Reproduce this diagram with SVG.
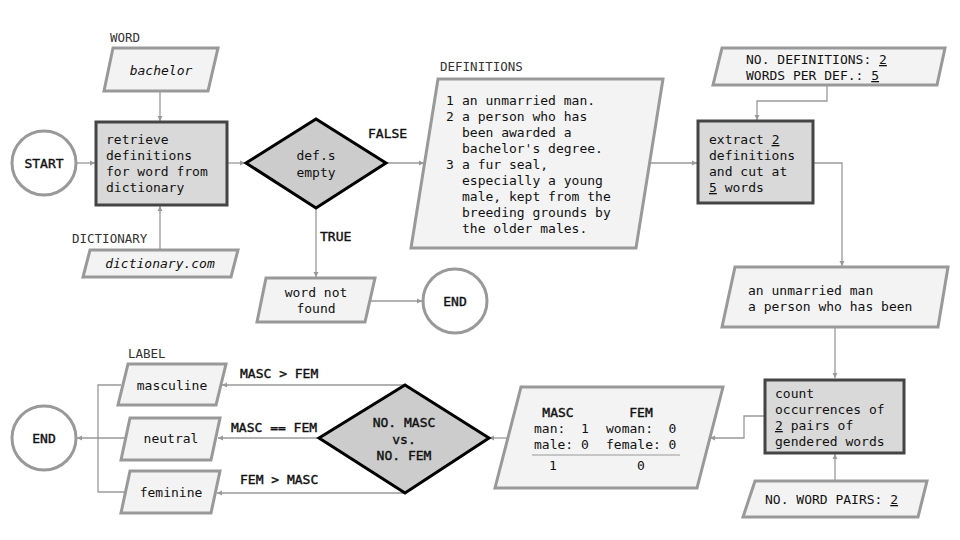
<svg xmlns="http://www.w3.org/2000/svg" width="960" height="540" viewBox="0 0 960 540">
<defs>
<marker id="ah" markerWidth="6" markerHeight="6" refX="5" refY="3" orient="auto" markerUnits="userSpaceOnUse">
<path d="M0,0.5 L5,3 L0,5.5 z" fill="#999"/>
</marker>
<style>
text{font-family:"DejaVu Sans Mono","Liberation Mono",monospace;font-size:13px;fill:#111}
.lbl{fill:#333;font-size:12.5px}
.em{stroke:#111;stroke-width:0.4}
.it{font-style:italic}
.mid{text-anchor:middle}
.io{fill:#f3f3f3;stroke:#999;stroke-width:3;stroke-linejoin:miter}
.proc{fill:#d9d9d9;stroke:#444;stroke-width:3}
.dec{fill:#cccccc;stroke:#000;stroke-width:3;stroke-linejoin:miter}
.term{fill:#fff;stroke:#999;stroke-width:3}
.c{fill:none;stroke:#999;stroke-width:1.3}
.ca{fill:none;stroke:#999;stroke-width:1.3;marker-end:url(#ah)}
.u{text-decoration:underline}
</style>
</defs>
<rect width="960" height="540" fill="#fff"/>

<g id="connectors">
<path class="ca" d="M76,163 H95"/>
<path class="ca" d="M160,91 V121"/>
<path class="ca" d="M160,249 V206"/>
<path class="ca" d="M227,163 H245"/>
<path class="ca" d="M386,163 H424"/>
<path class="ca" d="M316,208 V277"/>
<path class="ca" d="M371,301 H422"/>
<path class="ca" d="M650,163 H697"/>
<path class="ca" d="M827,85 V101 H757 V120"/>
<path class="ca" d="M813,163 H842 V266"/>
<path class="ca" d="M835,327 V378"/>
<path class="ca" d="M835,480 V454"/>
<path class="ca" d="M764,416 H744 V438 H710"/>
<path class="ca" d="M507,438 H489"/>
<path class="ca" d="M405,385 H222"/>
<path class="ca" d="M319,438 H218"/>
<path class="ca" d="M405,493 H217"/>
<path class="c" d="M121,385 H98 V492 H125"/>
<path class="ca" d="M125,438 H77"/>
<text class="em" x="368" y="138">FALSE</text>
<text class="em" x="320" y="241">TRUE</text>
<text class="em" x="240" y="378">MASC &gt; FEM</text>
<text class="em" x="231" y="432">MASC == FEM</text>
<text class="em" x="240" y="484">FEM &gt; MASC</text>
</g>

<g id="start">
<circle class="term" cx="44" cy="163" r="32"/>
<text class="em mid" x="44" y="168">START</text>
</g>

<g id="word">
<text class="lbl" x="110" y="42">WORD</text>
<polygon class="io" points="113,48 218,48 208,91 104,91"/>
<text class="it mid" x="161" y="75">bachelor</text>
</g>

<g id="dictionary">
<text class="lbl" x="72" y="243">DICTIONARY</text>
<polygon class="io" points="90,250 238,250 231,277 83,277"/>
<text class="it mid" x="160" y="268">dictionary.com</text>
</g>

<g id="retrieve">
<rect class="proc" x="96" y="122" width="131" height="83"/>
<text x="106" y="144">retrieve</text>
<text x="106" y="160">definitions</text>
<text x="106" y="176">for word from</text>
<text x="106" y="192">dictionary</text>
</g>

<g id="defs-empty">
<polygon class="dec" points="246,163 316,119 386,163 316,208"/>
<text class="mid" x="316" y="160">def.s</text>
<text class="mid" x="316" y="177">empty</text>
</g>

<g id="not-found">
<polygon class="io" points="266,278 375,278 365,322 257,322"/>
<text class="mid" x="316" y="297">word not</text>
<text class="mid" x="316" y="313">found</text>
</g>

<g id="end1">
<circle class="term" cx="455" cy="301" r="32"/>
<text class="em mid" x="455" y="306">END</text>
</g>

<g id="definitions">
<text class="lbl" x="440" y="71">DEFINITIONS</text>
<polygon class="io" points="438,79 663,79 636,248 411,248"/>
<text x="446" y="105">1</text><text x="462" y="105">an unmarried man.</text>
<text x="446" y="121">2</text><text x="462" y="121">a person who has</text>
<text x="462" y="137">been awarded a</text>
<text x="462" y="153">bachelor's degree.</text>
<text x="446" y="169">3</text><text x="462" y="169">a fur seal,</text>
<text x="462" y="185">especially a young</text>
<text x="462" y="201">male, kept from the</text>
<text x="462" y="217">breeding grounds by</text>
<text x="462" y="233">the older males.</text>
</g>

<g id="params1">
<polygon class="io" points="722,48 945,48 937,85 713,85"/>
<text x="746" y="64">NO. DEFINITIONS: <tspan class="u">2</tspan></text>
<text x="746" y="80">WORDS PER DEF.: <tspan class="u">5</tspan></text>
</g>

<g id="extract">
<rect class="proc" x="698" y="121" width="115" height="82"/>
<text x="709" y="144">extract <tspan class="u">2</tspan></text>
<text x="709" y="160">definitions</text>
<text x="709" y="176">and cut at</text>
<text x="709" y="192"><tspan class="u">5</tspan> words</text>
</g>

<g id="cut">
<polygon class="io" points="735,267 948,267 938,327 722,327"/>
<text x="748" y="295">an unmarried man</text>
<text x="748" y="311">a person who has been</text>
</g>

<g id="count">
<rect class="proc" x="765" y="380" width="139" height="73"/>
<text x="775" y="398">count</text>
<text x="775" y="414">occurrences of</text>
<text x="775" y="430"><tspan class="u">2</tspan> pairs of</text>
<text x="775" y="446">gendered words</text>
</g>

<g id="pairs">
<polygon class="io" points="755,481 927,481 918,517 743,517"/>
<text x="765" y="504">NO. WORD PAIRS: <tspan class="u">2</tspan></text>
</g>

<g id="table">
<polygon class="io" points="521,387 723,387 697,488 495,488"/>
<text class="em mid" x="558" y="417">MASC</text>
<text class="em mid" x="641" y="417">FEM</text>
<text x="534" y="433" xml:space="preserve">man:  1</text>
<text x="606" y="433" xml:space="preserve">woman:  0</text>
<text x="534" y="449">male: 0</text>
<text x="606" y="449">female: 0</text>
<path d="M532,455 H680" stroke="#999" stroke-width="1.2"/>
<text class="mid" x="553" y="470">1</text>
<text class="mid" x="641" y="470">0</text>
</g>

<g id="compare">
<polygon class="dec" points="319,438 405,385 489,438 405,493"/>
<text class="em mid" x="404" y="427">NO. MASC</text>
<text class="em mid" x="404" y="444">vs.</text>
<text class="em mid" x="404" y="460">NO. FEM</text>
</g>

<g id="masculine">
<text class="lbl" x="128" y="358">LABEL</text>
<polygon class="io" points="128,364 226,364 216,405 118,405"/>
<text class="mid" x="172" y="390">masculine</text>
</g>

<g id="neutral">
<polygon class="io" points="130,418 220,418 211,460 121,460"/>
<text class="mid" x="171" y="443">neutral</text>
</g>

<g id="feminine">
<polygon class="io" points="130,471 220,471 211,513 121,513"/>
<text class="mid" x="171" y="497">feminine</text>
</g>

<g id="end2">
<circle class="term" cx="44" cy="438" r="32"/>
<text class="em mid" x="44" y="443">END</text>
</g>
</svg>
